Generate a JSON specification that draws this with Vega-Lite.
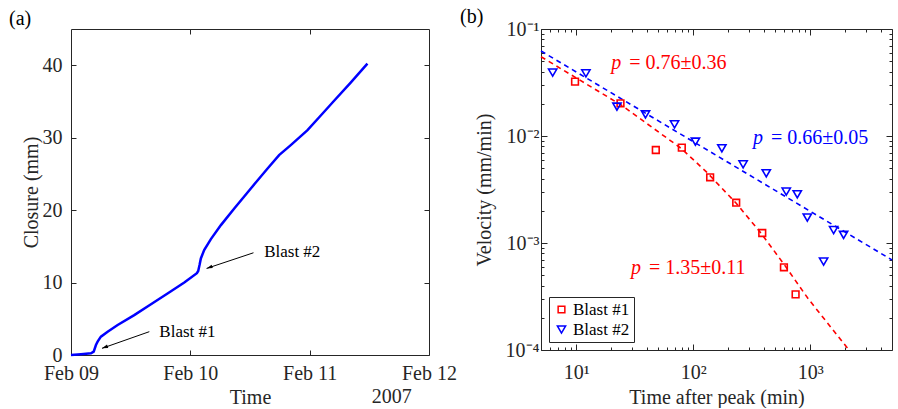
{
  "$schema": "https://vega.github.io/schema/vega-lite/v6.json",
  "background": "white",
  "padding": {"left": 8, "top": 6, "right": 0, "bottom": 0},
  "spacing": 112,
  "bounds": "flush",
  "resolve": {"scale": {"color": "independent", "shape": "independent", "size": "independent"}, "legend": {"color": "independent", "shape": "independent", "size": "independent"}},
  "config": {
    "font": "Liberation Serif",
    "view": {"stroke": "#262626", "strokeWidth": 1},
    "point": {"opacity": 1},
    "axis": {
      "labelFont": "Liberation Serif", "labelFontSize": 20, "labelColor": "#262626",
      "titleFont": "Liberation Serif", "titleFontSize": 20, "titleFontWeight": "normal", "titleColor": "#262626",
      "tickColor": "#262626", "domain": false, "grid": false, "labelFlush": false, "labelOverlap": false
    },
    "title": {"font": "Liberation Serif", "fontSize": 20, "fontWeight": "normal", "color": "black", "anchor": "start", "frame": "bounds"},
    "legend": {
      "orient": "bottom-left", "offset": 8, "strokeColor": "#262626", "fillColor": "white", "padding": 4,
      "labelFont": "Liberation Serif", "labelFontSize": 17, "labelColor": "black",
      "symbolStrokeWidth": 1.5, "rowPadding": 2, "labelOffset": 3, "symbolOpacity": 1
    }
  },
  "datasets": {
    "curve": [
      {"time": "2007-02-09T00:00:00", "closure": 0},
      {"time": "2007-02-09T02:00:00", "closure": 0.1},
      {"time": "2007-02-09T04:01:00", "closure": 0.23},
      {"time": "2007-02-09T04:34:00", "closure": 0.46},
      {"time": "2007-02-09T05:01:00", "closure": 1.38},
      {"time": "2007-02-09T05:21:00", "closure": 1.84},
      {"time": "2007-02-09T06:01:00", "closure": 2.53},
      {"time": "2007-02-09T07:22:00", "closure": 3.22},
      {"time": "2007-02-09T09:23:00", "closure": 4.14},
      {"time": "2007-02-09T12:43:00", "closure": 5.5},
      {"time": "2007-02-09T16:05:00", "closure": 7.0},
      {"time": "2007-02-09T19:25:00", "closure": 8.5},
      {"time": "2007-02-09T22:47:00", "closure": 10.0},
      {"time": "2007-02-10T01:19:00", "closure": 11.3},
      {"time": "2007-02-10T01:35:00", "closure": 11.6},
      {"time": "2007-02-10T01:51:00", "closure": 12.41},
      {"time": "2007-02-10T02:07:00", "closure": 13.33},
      {"time": "2007-02-10T02:47:00", "closure": 14.48},
      {"time": "2007-02-10T04:08:00", "closure": 16.0},
      {"time": "2007-02-10T06:09:00", "closure": 17.93},
      {"time": "2007-02-10T08:50:00", "closure": 20.23},
      {"time": "2007-02-10T12:10:00", "closure": 22.99},
      {"time": "2007-02-10T15:32:00", "closure": 25.75},
      {"time": "2007-02-10T17:51:00", "closure": 27.59},
      {"time": "2007-02-10T20:12:00", "closure": 28.97},
      {"time": "2007-02-10T23:34:00", "closure": 31.03},
      {"time": "2007-02-11T02:14:00", "closure": 33.06},
      {"time": "2007-02-11T04:55:00", "closure": 35.1},
      {"time": "2007-02-11T08:15:00", "closure": 37.6},
      {"time": "2007-02-11T11:37:00", "closure": 40.23}
    ],
    "arrows": [
      {"label": "Blast #1", "from": "2007-02-09T15:45:00", "fromC": 3.22, "to": "2007-02-09T06:14:00", "toC": 0.92, "textT": "2007-02-09T17:46:00", "textC": 3.2},
      {"label": "Blast #2", "from": "2007-02-10T12:42:00", "fromC": 14.11, "to": "2007-02-10T03:16:00", "toC": 11.95, "textT": "2007-02-10T14:51:00", "textC": 14.25}
    ],
    "year": [
      {"label": "2007", "time": "2007-02-11T16:31:00", "c": -6.6}
    ],
    "points": [
      {"series": "Blast #1", "t": 9.77, "v": 0.0322},
      {"series": "Blast #1", "t": 23.9, "v": 0.0202},
      {"series": "Blast #1", "t": 47.9, "v": 0.0074},
      {"series": "Blast #1", "t": 79.9, "v": 0.00778},
      {"series": "Blast #1", "t": 139.5, "v": 0.00411},
      {"series": "Blast #1", "t": 233, "v": 0.00238},
      {"series": "Blast #1", "t": 389, "v": 0.00124},
      {"series": "Blast #1", "t": 596, "v": 0.000593},
      {"series": "Blast #1", "t": 750, "v": 0.000331},
      {"series": "Blast #2", "t": 6.29, "v": 0.0391},
      {"series": "Blast #2", "t": 12.1, "v": 0.0385},
      {"series": "Blast #2", "t": 22.3, "v": 0.0188},
      {"series": "Blast #2", "t": 39.1, "v": 0.0159},
      {"series": "Blast #2", "t": 69.2, "v": 0.01285},
      {"series": "Blast #2", "t": 104.5, "v": 0.00885},
      {"series": "Blast #2", "t": 175.7, "v": 0.00767},
      {"series": "Blast #2", "t": 267, "v": 0.00543},
      {"series": "Blast #2", "t": 421, "v": 0.00448},
      {"series": "Blast #2", "t": 624, "v": 0.00302},
      {"series": "Blast #2", "t": 775, "v": 0.00285},
      {"series": "Blast #2", "t": 944, "v": 0.00173},
      {"series": "Blast #2", "t": 1301, "v": 0.00067},
      {"series": "Blast #2", "t": 1585, "v": 0.00132},
      {"series": "Blast #2", "t": 1929, "v": 0.00119}
    ],
    "fits": [
      {"fit": "Blast #1", "t": 5, "v": 0.0551},
      {"fit": "Blast #1", "t": 24.2, "v": 0.0195},
      {"fit": "Blast #1", "t": 78.8, "v": 0.00767},
      {"fit": "Blast #1", "t": 128.9, "v": 0.00465},
      {"fit": "Blast #1", "t": 233, "v": 0.00235},
      {"fit": "Blast #1", "t": 381, "v": 0.00123},
      {"fit": "Blast #1", "t": 604, "v": 0.000622},
      {"fit": "Blast #1", "t": 955, "v": 0.000304},
      {"fit": "Blast #1", "t": 2143, "v": 0.0001},
      {"fit": "Blast #2", "t": 5, "v": 0.0623},
      {"fit": "Blast #2", "t": 5000, "v": 0.000694}
    ],
    "notes": [
      {"series": "Blast #1", "t": 19.9, "v": 0.0484, "p": "p", "rest": "= 0.76±0.36"},
      {"series": "Blast #2", "t": 323.6, "v": 0.0095, "p": "p", "rest": "= 0.66±0.05"},
      {"series": "Blast #1", "t": 29.4, "v": 0.00058, "p": "p", "rest": "= 1.35±0.11"}
    ]
  },
  "hconcat": [
    {
      "width": 358,
      "height": 326,
      "title": {"text": "(a)", "dx": -12, "offset": 0},
      "resolve": {"axis": {"x": "independent", "y": "independent"}},
      "layer": [
        {
          "data": {"name": "curve"},
          "mark": {"type": "line", "color": "#0000ff", "strokeWidth": 2.5},
          "encoding": {
            "x": {"field": "time", "type": "temporal",
              "scale": {"domain": [{"year": 2007, "month": 2, "date": 9}, {"year": 2007, "month": 2, "date": 12}]},
              "axis": {"orient": "bottom", "title": "Time", "titleFontSize": 20, "format": "%b %d", "tickSize": -5, "labelPadding": 13, "titlePadding": 4,
                "values": [{"year": 2007, "month": 2, "date": 9}, {"year": 2007, "month": 2, "date": 10}, {"year": 2007, "month": 2, "date": 11}, {"year": 2007, "month": 2, "date": 12}]}},
            "y": {"field": "closure", "type": "quantitative",
              "scale": {"domain": [0, 45], "nice": false},
              "axis": {"orient": "left", "title": "Closure (mm)", "titleFontSize": 20, "values": [0, 10, 20, 30, 40], "tickSize": -5, "labelPadding": 14, "titlePadding": 1}}
          }
        },
        {
          "data": {"name": "curve"},
          "mark": {"type": "point", "opacity": 0},
          "encoding": {
            "x": {"field": "time", "type": "temporal",
              "axis": {"orient": "top", "title": null, "labels": false, "tickSize": -5,
                "values": [{"year": 2007, "month": 2, "date": 10}, {"year": 2007, "month": 2, "date": 11}]}},
            "y": {"field": "closure", "type": "quantitative",
              "axis": {"orient": "right", "title": null, "labels": false, "tickSize": -5, "values": [10, 20, 30, 40]}}
          }
        },
        {
          "data": {"name": "arrows"},
          "mark": {"type": "rule", "color": "black", "strokeWidth": 1},
          "encoding": {
            "x": {"field": "from", "type": "temporal", "axis": null},
            "x2": {"field": "to"},
            "y": {"field": "fromC", "type": "quantitative", "axis": null},
            "y2": {"field": "toC"}
          }
        },
        {
          "data": {"name": "arrows"},
          "mark": {"type": "point", "shape": "M0,0L2,-0.6L2,0.6Z", "filled": true, "color": "black", "size": 36, "angle": 340, "opacity": 1},
          "encoding": {
            "x": {"field": "to", "type": "temporal", "axis": null},
            "y": {"field": "toC", "type": "quantitative", "axis": null}
          }
        },
        {
          "data": {"name": "arrows"},
          "mark": {"type": "text", "align": "left", "baseline": "middle", "fontSize": 17, "font": "Liberation Serif", "color": "black"},
          "encoding": {
            "x": {"field": "textT", "type": "temporal", "axis": null},
            "y": {"field": "textC", "type": "quantitative", "axis": null},
            "text": {"field": "label"}
          }
        },
        {
          "data": {"name": "year"},
          "mark": {"type": "text", "align": "center", "baseline": "alphabetic", "fontSize": 20, "font": "Liberation Serif", "color": "#262626"},
          "encoding": {
            "x": {"field": "time", "type": "temporal", "axis": null},
            "y": {"field": "c", "type": "quantitative", "axis": null},
            "text": {"field": "label"}
          }
        }
      ]
    },
    {
      "width": 351,
      "height": 321,
      "title": {"text": "(b)", "dx": -14, "offset": -8},
      "resolve": {"axis": {"x": "independent", "y": "independent"}},
      "layer": [
        {
          "data": {"name": "fits"},
          "mark": {"type": "line", "strokeWidth": 1.6, "strokeDash": [5, 4]},
          "encoding": {
            "x": {"field": "t", "type": "quantitative",
              "scale": {"type": "log", "domain": [5, 5000], "nice": false},
              "axis": {"orient": "bottom", "title": "Time after peak (min)", "titleFontSize": 20, "labelPadding": 18, "titlePadding": 2,
                "values": [5, 6, 7, 8, 9, 10, 20, 30, 40, 50, 60, 70, 80, 90, 100, 200, 300, 400, 500, 600, 700, 800, 900, 1000, 2000, 3000, 4000, 5000],
                "labelExpr": "datum.value == 10 ? '10¹' : datum.value == 100 ? '10²' : datum.value == 1000 ? '10³' : ''",
                "tickSize": {"condition": {"test": "datum.value == 10 || datum.value == 100 || datum.value == 1000", "value": -6}, "value": -3}}},
            "y": {"field": "v", "type": "quantitative",
              "scale": {"type": "log", "domain": [0.0001, 0.1], "nice": false},
              "axis": {"orient": "left", "title": "Velocity (mm/min)", "titleFontSize": 20, "labelPadding": 8, "titlePadding": 11,
                "values": [0.0001, 0.0002, 0.0003, 0.0004, 0.0005, 0.0006, 0.0007, 0.0008, 0.0009, 0.001, 0.002, 0.003, 0.004, 0.005, 0.006, 0.007, 0.008, 0.009, 0.01, 0.02, 0.03, 0.04, 0.05, 0.06, 0.07, 0.08, 0.09, 0.1],
                "labelExpr": "datum.value == 0.1 ? '10⁻¹' : datum.value == 0.01 ? '10⁻²' : datum.value == 0.001 ? '10⁻³' : datum.value == 0.0001 ? '10⁻⁴' : ''",
                "tickSize": {"condition": {"test": "datum.value == 0.1 || datum.value == 0.01 || datum.value == 0.001 || datum.value == 0.0001", "value": -6}, "value": -3}}},
            "detail": {"field": "fit"},
            "color": {"condition": {"test": "datum.fit == 'Blast #2'", "value": "#0000ff"}, "value": "#ff0000"}
          }
        },
        {
          "data": {"name": "fits"},
          "mark": {"type": "point", "opacity": 0},
          "encoding": {
            "x": {"field": "t", "type": "quantitative",
              "axis": {"orient": "top", "title": null, "labels": false,
                "values": [5, 6, 7, 8, 9, 10, 20, 30, 40, 50, 60, 70, 80, 90, 100, 200, 300, 400, 500, 600, 700, 800, 900, 1000, 2000, 3000, 4000, 5000],
                "tickSize": {"condition": {"test": "datum.value == 10 || datum.value == 100 || datum.value == 1000", "value": -6}, "value": -3}}},
            "y": {"field": "v", "type": "quantitative",
              "axis": {"orient": "right", "title": null, "labels": false,
                "values": [0.0002, 0.0003, 0.0004, 0.0005, 0.0006, 0.0007, 0.0008, 0.0009, 0.001, 0.002, 0.003, 0.004, 0.005, 0.006, 0.007, 0.008, 0.009, 0.01, 0.02, 0.03, 0.04, 0.05, 0.06, 0.07, 0.08, 0.09],
                "tickSize": {"condition": {"test": "datum.value == 0.01 || datum.value == 0.001", "value": -6}, "value": -3}}}
          }
        },
        {
          "data": {"name": "points"},
          "mark": {"type": "point", "filled": false, "strokeWidth": 1.6, "opacity": 1},
          "encoding": {
            "x": {"field": "t", "type": "quantitative", "axis": null},
            "y": {"field": "v", "type": "quantitative", "axis": null},
            "color": {"field": "series", "type": "nominal", "scale": {"domain": ["Blast #1", "Blast #2"], "range": ["#ff0000", "#0000ff"]}, "legend": {"title": null, "orient": "bottom-left"}},
            "shape": {"field": "series", "type": "nominal", "scale": {"domain": ["Blast #1", "Blast #2"], "range": ["square", "triangle-down"]}, "legend": {"title": null, "orient": "bottom-left"}},
            "size": {"field": "series", "type": "nominal", "scale": {"domain": ["Blast #1", "Blast #2"], "range": [45, 68]}, "legend": {"title": null, "orient": "bottom-left"}}
          }
        },
        {
          "data": {"name": "notes"},
          "mark": {"type": "text", "align": "left", "baseline": "middle", "fontSize": 20, "fontStyle": "italic", "font": "Liberation Serif"},
          "encoding": {
            "x": {"field": "t", "type": "quantitative", "axis": null},
            "y": {"field": "v", "type": "quantitative", "axis": null},
            "text": {"field": "p"},
            "color": {"condition": {"test": "datum.series == 'Blast #2'", "value": "#0000ff"}, "value": "#ff0000"}
          }
        },
        {
          "data": {"name": "notes"},
          "mark": {"type": "text", "align": "left", "baseline": "middle", "fontSize": 20, "font": "Liberation Serif", "dx": 18},
          "encoding": {
            "x": {"field": "t", "type": "quantitative", "axis": null},
            "y": {"field": "v", "type": "quantitative", "axis": null},
            "text": {"field": "rest"},
            "color": {"condition": {"test": "datum.series == 'Blast #2'", "value": "#0000ff"}, "value": "#ff0000"}
          }
        }
      ]
    }
  ]
}
